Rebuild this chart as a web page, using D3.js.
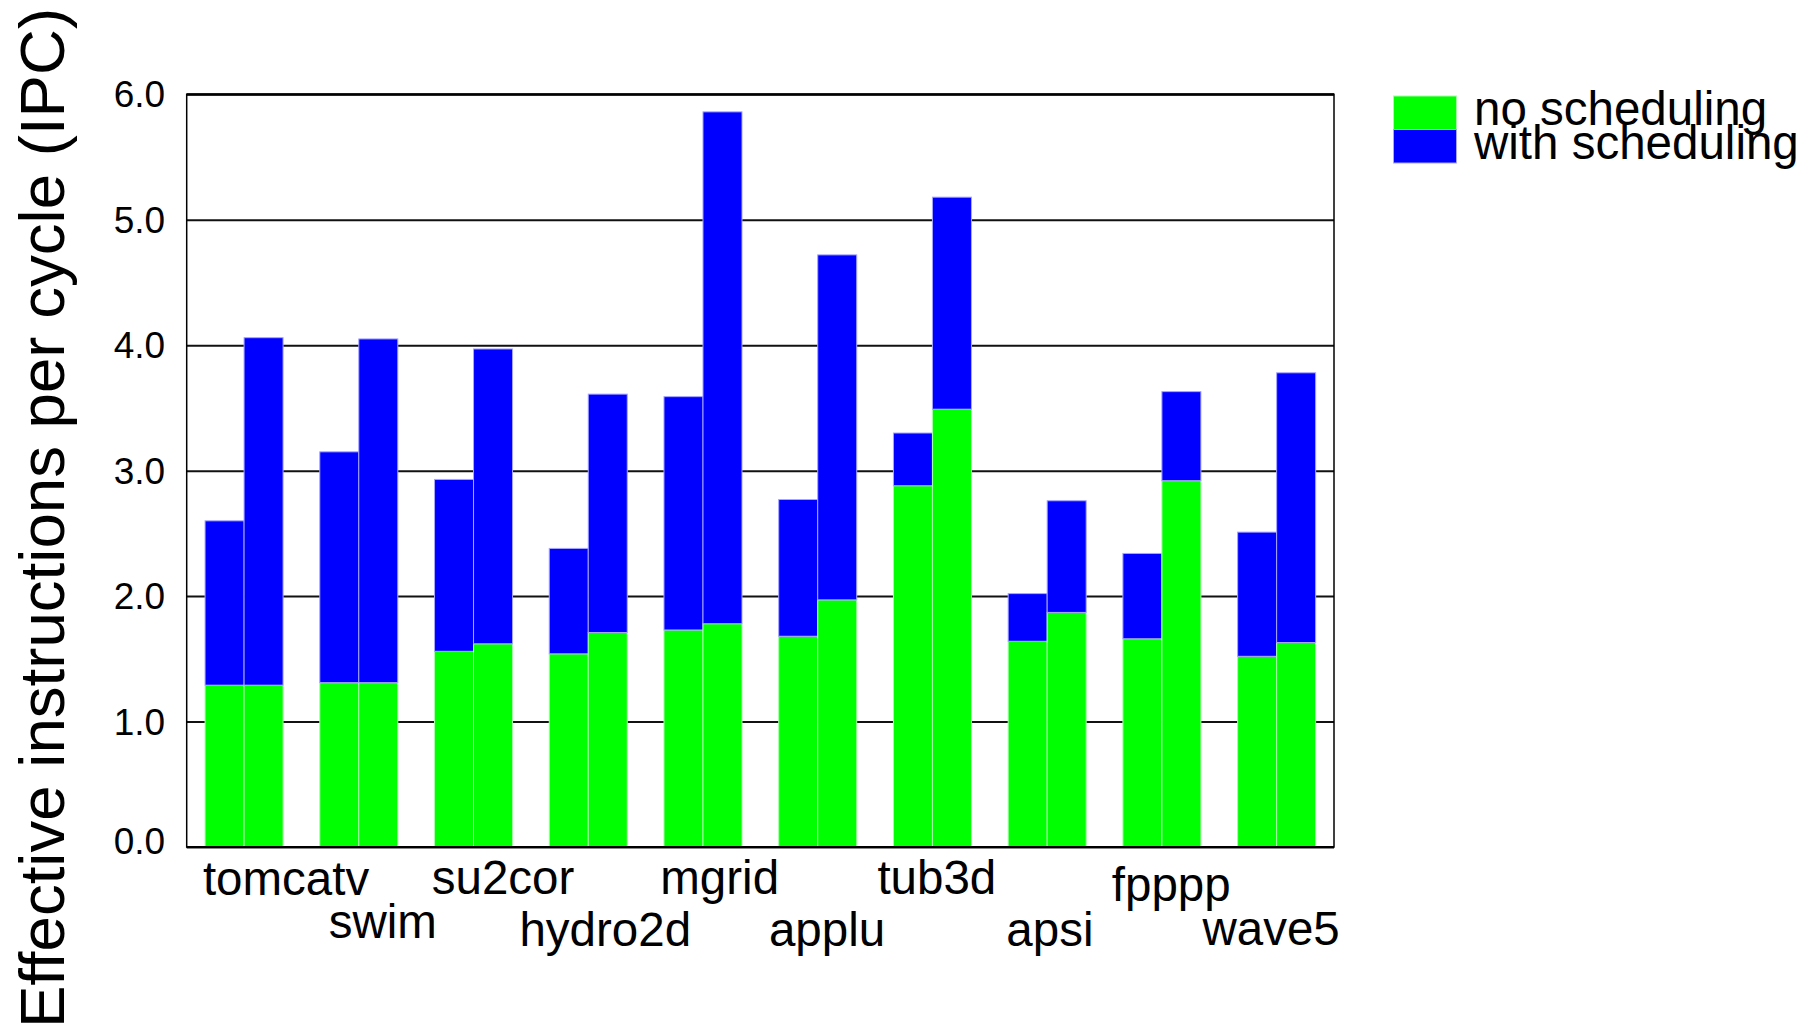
<!DOCTYPE html>
<html>
<head>
<meta charset="utf-8">
<script src="https://cdn.jsdelivr.net/npm/d3@7"></script>
<style>
  html, body { margin: 0; padding: 0; background: #fff; }
  svg { display: block; font-family: "Liberation Sans", Arial, Helvetica, sans-serif; }
</style>
</head>
<body>
<svg id="chart" width="1817" height="1029"></svg>
<script>
// Benchmarks (SPECfp95) on the x axis
const benchmarks = ["tomcatv", "swim", "su2cor", "hydro2d", "mgrid", "applu", "tub3d", "apsi", "fpppp", "wave5"];

// Left bar of each pair: IPC without scheduling, and IPC with scheduling (top of the stack)
const leftNoSched   = [1.29, 1.31, 1.56, 1.54, 1.73, 1.68, 2.88, 1.64, 1.66, 1.52];
const leftWithSched = [2.60, 3.15, 2.93, 2.38, 3.59, 2.77, 3.30, 2.02, 2.34, 2.51];

// Right bar of each pair
const rightNoSched   = [1.29, 1.31, 1.62, 1.71, 1.78, 1.97, 3.49, 1.87, 2.92, 1.63];
const rightWithSched = [4.06, 4.05, 3.97, 3.61, 5.86, 4.72, 5.18, 2.76, 3.63, 3.78];

const yTicks = [0, 1, 2, 3, 4, 5, 6];
const seriesNames = ["no scheduling", "with scheduling"];
const yTitle = "Effective instructions per cycle (IPC)";

// ---- layout ----
const plot = { left: 186.7, right: 1334, top: 94.3, bottom: 847 };
const GREEN = "#00ff00", BLUE = "#0000ff";
const GREEN_EDGE = "#a6ffa6", BLUE_EDGE = "#a6a6ff";

// hand-placed benchmark labels: horizontal shift from the group centre and baseline y
const labelShift = [42, 24, 29.5, 17, 16.7, 9.3, 4.4, 2.7, 9.3, -5.5];
const labelBaseline = [895, 937.5, 893.5, 946, 893.5, 946, 893.5, 946, 900.5, 944.5];

const svg = d3.select("#chart");

const x = d3.scaleBand()
  .domain(benchmarks)
  .range([plot.left, plot.right])
  .paddingInner(0.32)
  .paddingOuter(0.16);

const sub = d3.scaleBand()
  .domain(["left", "right"])
  .range([0, x.bandwidth()]);

const y = d3.scaleLinear().domain([0, 6]).range([plot.bottom, plot.top]);

// horizontal grid lines behind the bars
const grid = svg.append("g")
  .attr("transform", `translate(${plot.left},0)`)
  .call(d3.axisLeft(y).tickValues(yTicks).tickSize(-(plot.right - plot.left)).tickFormat(""));
grid.select(".domain").remove();
grid.selectAll(".tick line").attr("stroke", "#111").attr("stroke-width", 2);

// y tick labels
const yAxis = svg.append("g")
  .attr("transform", `translate(${plot.left},0)`)
  .call(d3.axisLeft(y).tickValues(yTicks).tickFormat(d3.format(".1f")).tickSize(0).tickPadding(21.5));
yAxis.select(".domain").remove();
yAxis.selectAll(".tick text")
  .attr("font-size", 37)
  .attr("fill", "#000")
  .attr("font-family", "Liberation Sans, Arial, sans-serif")
  .attr("dy", d => d === 0 ? "0.17em" : "0.34em");

// stacked pairs of bars
const rows = benchmarks.map((b, i) => ({
  name: b,
  bars: [
    { key: "left",  base: leftNoSched[i],  top: leftWithSched[i] },
    { key: "right", base: rightNoSched[i], top: rightWithSched[i] }
  ]
}));

const groups = svg.append("g").selectAll("g")
  .data(rows)
  .join("g")
  .attr("transform", d => `translate(${x(d.name)},0)`);

const bars = groups.selectAll("g.bar")
  .data(d => d.bars)
  .join("g")
  .attr("class", "bar");

bars.append("rect")
  .attr("x", d => sub(d.key))
  .attr("width", sub.bandwidth())
  .attr("y", d => y(d.base))
  .attr("height", d => y(0) - y(d.base))
  .attr("fill", GREEN)
  .attr("stroke", GREEN_EDGE)
  .attr("stroke-width", 1);

bars.append("rect")
  .attr("x", d => sub(d.key))
  .attr("width", sub.bandwidth())
  .attr("y", d => y(d.top))
  .attr("height", d => y(d.base) - y(d.top))
  .attr("fill", BLUE)
  .attr("stroke", BLUE_EDGE)
  .attr("stroke-width", 1);

// plot frame
svg.append("rect")
  .attr("x", plot.left).attr("y", plot.top)
  .attr("width", plot.right - plot.left)
  .attr("height", plot.bottom - plot.top)
  .attr("fill", "none")
  .attr("stroke", "#000")
  .attr("stroke-width", 1.5);
svg.append("line")
  .attr("x1", plot.left).attr("x2", plot.right)
  .attr("y1", plot.top).attr("y2", plot.top)
  .attr("stroke", "#000").attr("stroke-width", 2.2);
svg.append("line")
  .attr("x1", plot.left).attr("x2", plot.right)
  .attr("y1", plot.bottom).attr("y2", plot.bottom)
  .attr("stroke", "#000").attr("stroke-width", 2.2);

// benchmark labels below the axis
svg.append("g").selectAll("text")
  .data(benchmarks)
  .join("text")
  .attr("x", (d, i) => x(d) + x.bandwidth() / 2 + labelShift[i])
  .attr("y", (d, i) => labelBaseline[i])
  .attr("text-anchor", "middle")
  .attr("font-size", 47.5)
  .attr("fill", "#000")
  .text(d => d);

// y axis title
svg.append("text")
  .attr("transform", "translate(63.5,518) rotate(-90)")
  .attr("text-anchor", "middle")
  .attr("font-size", 63.6)
  .attr("fill", "#000")
  .text(yTitle);

// legend (the two entries sit tightly stacked)
const legend = svg.append("g");
const legendItems = [
  { label: seriesNames[0], fill: GREEN, edge: GREEN_EDGE },
  { label: seriesNames[1], fill: BLUE,  edge: BLUE_EDGE }
];
legend.selectAll("rect")
  .data(legendItems)
  .join("rect")
  .attr("x", 1393.5)
  .attr("y", (d, i) => 96 + i * 33.5)
  .attr("width", 63)
  .attr("height", 33.5)
  .attr("fill", d => d.fill)
  .attr("stroke", d => d.edge)
  .attr("stroke-width", 1);
legend.selectAll("text")
  .data(legendItems)
  .join("text")
  .attr("x", 1474)
  .attr("y", (d, i) => 125 + i * 34)
  .attr("font-size", 47.5)
  .attr("fill", "#000")
  .text(d => d.label);
</script>
</body>
</html>
